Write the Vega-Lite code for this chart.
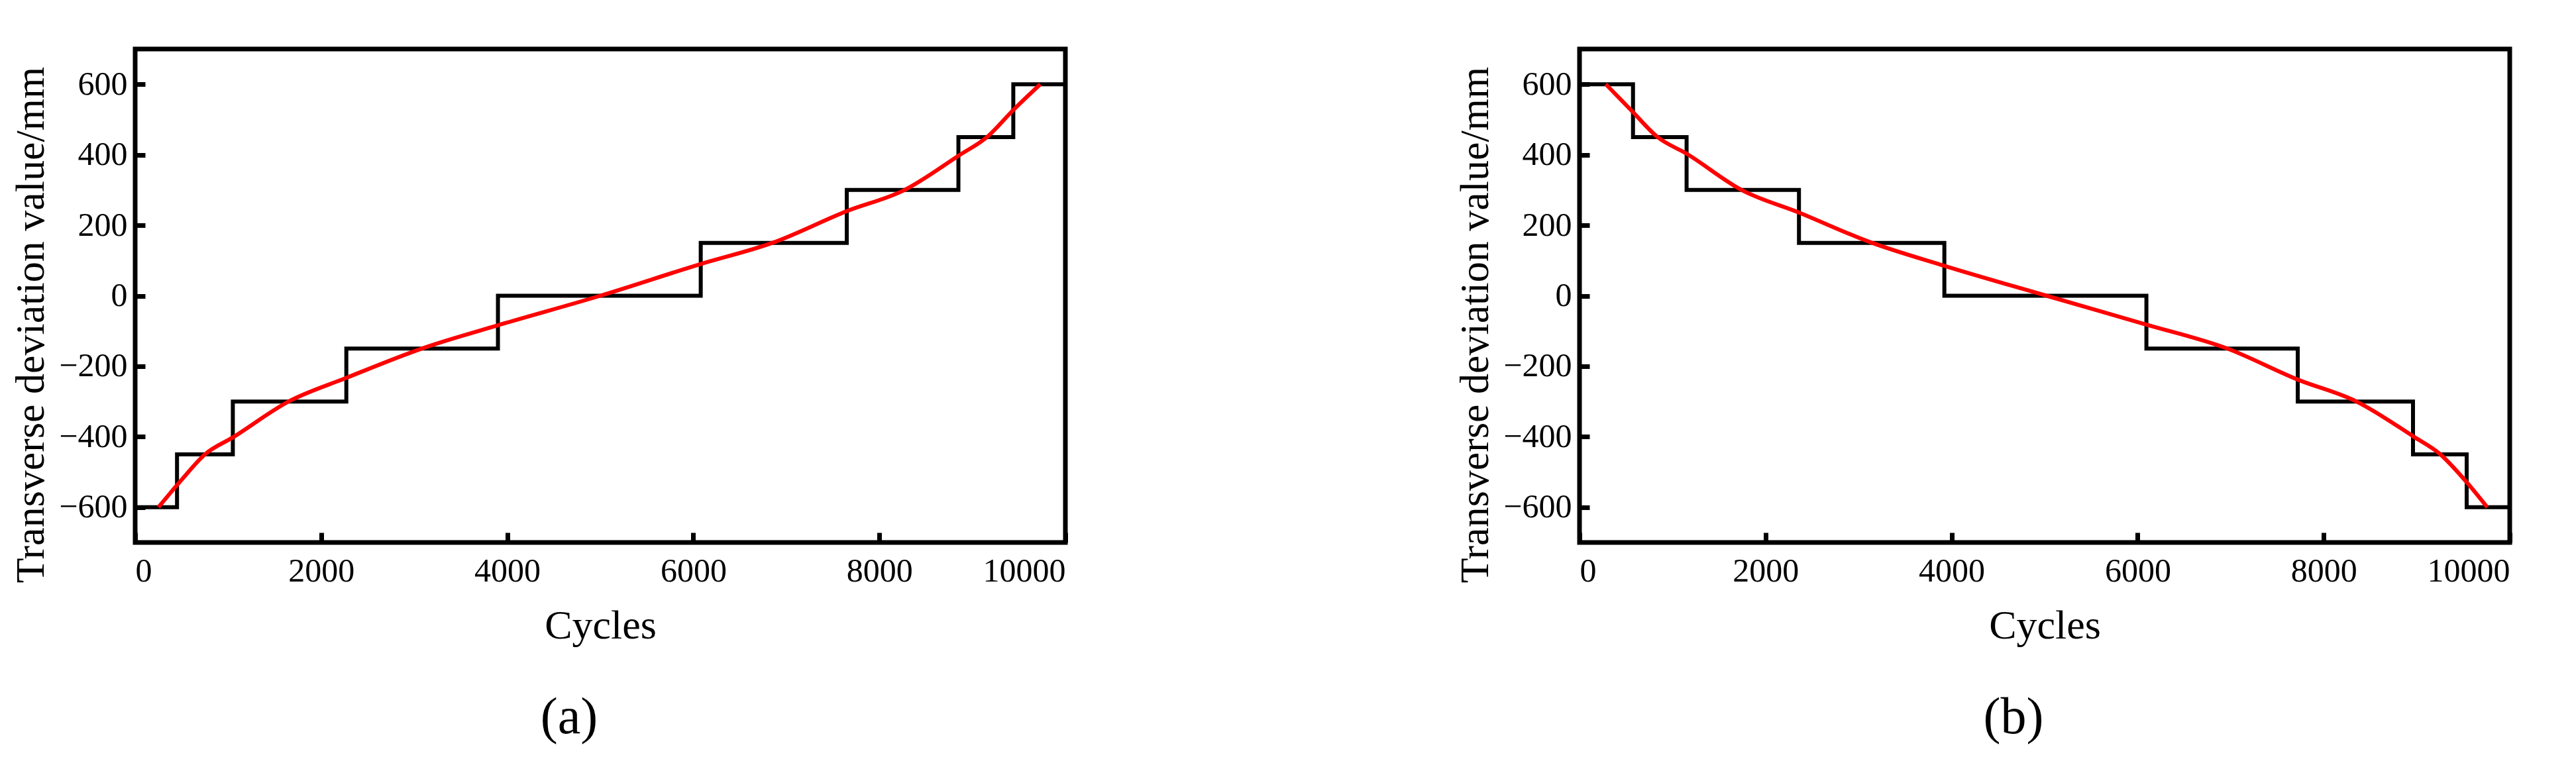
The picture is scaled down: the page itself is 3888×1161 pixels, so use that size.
{
  "$schema": "https://vega.github.io/schema/vega-lite/v6.json",
  "background": "white",
  "padding": {"left": 12, "top": 70, "right": 0, "bottom": 0},
  "spacing": 568,
  "config": {
    "view": {"stroke": "black", "strokeWidth": 7},
    "font": "Liberation Serif",
    "axis": {
      "domain": false,
      "grid": false,
      "ticks": true,
      "zindex": 1,
      "tickColor": "black",
      "tickWidth": 7,
      "tickSize": 15,
      "offset": -15,
      "format": "d",
      "labelFont": "Liberation Serif",
      "labelFontSize": 50,
      "labelColor": "black",
      "titleFont": "Liberation Serif",
      "titleFontSize": 62,
      "titleFontWeight": "normal",
      "titleColor": "black"
    },
    "title": {"font": "Liberation Serif", "fontSize": 78, "fontWeight": "normal", "color": "black"}
  },
  "hconcat": [
    {
      "width": 1404,
      "height": 745,
      "view": {"stroke": "black", "strokeWidth": 7},
      "title": {"text": "(a)", "orient": "bottom", "anchor": "middle", "dx": -47, "offset": 70},
      "layer": [
        {
          "data": {"values": [
            {"cycles": 0, "dev": -600},
            {"cycles": 450, "dev": -450},
            {"cycles": 1050, "dev": -300},
            {"cycles": 2270, "dev": -150},
            {"cycles": 3900, "dev": 0},
            {"cycles": 6080, "dev": 150},
            {"cycles": 7650, "dev": 300},
            {"cycles": 8850, "dev": 450},
            {"cycles": 9440, "dev": 600},
            {"cycles": 10000, "dev": 600}
          ]},
          "mark": {"type": "line", "interpolate": "step-after", "color": "black", "strokeWidth": 6, "strokeJoin": "miter"},
          "encoding": {
            "x": {"field": "cycles", "type": "quantitative", "scale": {"domain": [0, 10000], "nice": false},
                  "axis": {"values": [0, 2000, 4000, 6000, 8000, 10000], "title": "Cycles", "labelPadding": 18, "titlePadding": 27}},
            "y": {"field": "dev", "type": "quantitative", "scale": {"domain": [-700, 700], "nice": false},
                  "axis": {"values": [-600, -400, -200, 0, 200, 400, 600], "title": "Transverse deviation value/mm", "labelPadding": 12, "titlePadding": 10, "titleY": 416}}
          }
        },
        {
          "data": {"values": [
            {"cycles": 250, "dev": -600},
            {"cycles": 500, "dev": -522},
            {"cycles": 750, "dev": -450},
            {"cycles": 1050, "dev": -402},
            {"cycles": 1650, "dev": -300},
            {"cycles": 2270, "dev": -233},
            {"cycles": 3080, "dev": -150},
            {"cycles": 3910, "dev": -83},
            {"cycles": 5000, "dev": 0},
            {"cycles": 6080, "dev": 90},
            {"cycles": 6850, "dev": 150},
            {"cycles": 7650, "dev": 240},
            {"cycles": 8270, "dev": 300},
            {"cycles": 8850, "dev": 397},
            {"cycles": 9170, "dev": 453},
            {"cycles": 9440, "dev": 527},
            {"cycles": 9730, "dev": 600}
          ]},
          "mark": {"type": "line", "interpolate": "monotone", "color": "#ff0000", "strokeWidth": 6},
          "encoding": {
            "x": {"field": "cycles", "type": "quantitative"},
            "y": {"field": "dev", "type": "quantitative"}
          }
        }
      ]
    },
    {
      "width": 1404,
      "height": 745,
      "view": {"stroke": "black", "strokeWidth": 7},
      "title": {"text": "(b)", "orient": "bottom", "anchor": "middle", "dx": -47, "offset": 70},
      "layer": [
        {
          "data": {"values": [
            {"cycles": 0, "dev": 600},
            {"cycles": 575, "dev": 450},
            {"cycles": 1151, "dev": 300},
            {"cycles": 2359, "dev": 150},
            {"cycles": 3922, "dev": 0},
            {"cycles": 6094, "dev": -150},
            {"cycles": 7721, "dev": -300},
            {"cycles": 8960, "dev": -450},
            {"cycles": 9537, "dev": -600},
            {"cycles": 10000, "dev": -600}
          ]},
          "mark": {"type": "line", "interpolate": "step-after", "color": "black", "strokeWidth": 6, "strokeJoin": "miter"},
          "encoding": {
            "x": {"field": "cycles", "type": "quantitative", "scale": {"domain": [0, 10000], "nice": false},
                  "axis": {"values": [0, 2000, 4000, 6000, 8000, 10000], "title": "Cycles", "labelPadding": 18, "titlePadding": 27}},
            "y": {"field": "dev", "type": "quantitative", "scale": {"domain": [-700, 700], "nice": false},
                  "axis": {"values": [-600, -400, -200, 0, 200, 400, 600], "title": "Transverse deviation value/mm", "labelPadding": 12, "titlePadding": 10, "titleY": 416}}
          }
        },
        {
          "data": {"values": [
            {"cycles": 283, "dev": 600},
            {"cycles": 560, "dev": 525},
            {"cycles": 835, "dev": 451},
            {"cycles": 1151, "dev": 403},
            {"cycles": 1743, "dev": 300},
            {"cycles": 2359, "dev": 236},
            {"cycles": 3125, "dev": 152},
            {"cycles": 3922, "dev": 85},
            {"cycles": 5021, "dev": 0},
            {"cycles": 6094, "dev": -82},
            {"cycles": 6955, "dev": -149},
            {"cycles": 7721, "dev": -238},
            {"cycles": 8352, "dev": -300},
            {"cycles": 8969, "dev": -400},
            {"cycles": 9245, "dev": -448},
            {"cycles": 9537, "dev": -529},
            {"cycles": 9758, "dev": -600}
          ]},
          "mark": {"type": "line", "interpolate": "monotone", "color": "#ff0000", "strokeWidth": 6},
          "encoding": {
            "x": {"field": "cycles", "type": "quantitative"},
            "y": {"field": "dev", "type": "quantitative"}
          }
        }
      ]
    }
  ]
}
